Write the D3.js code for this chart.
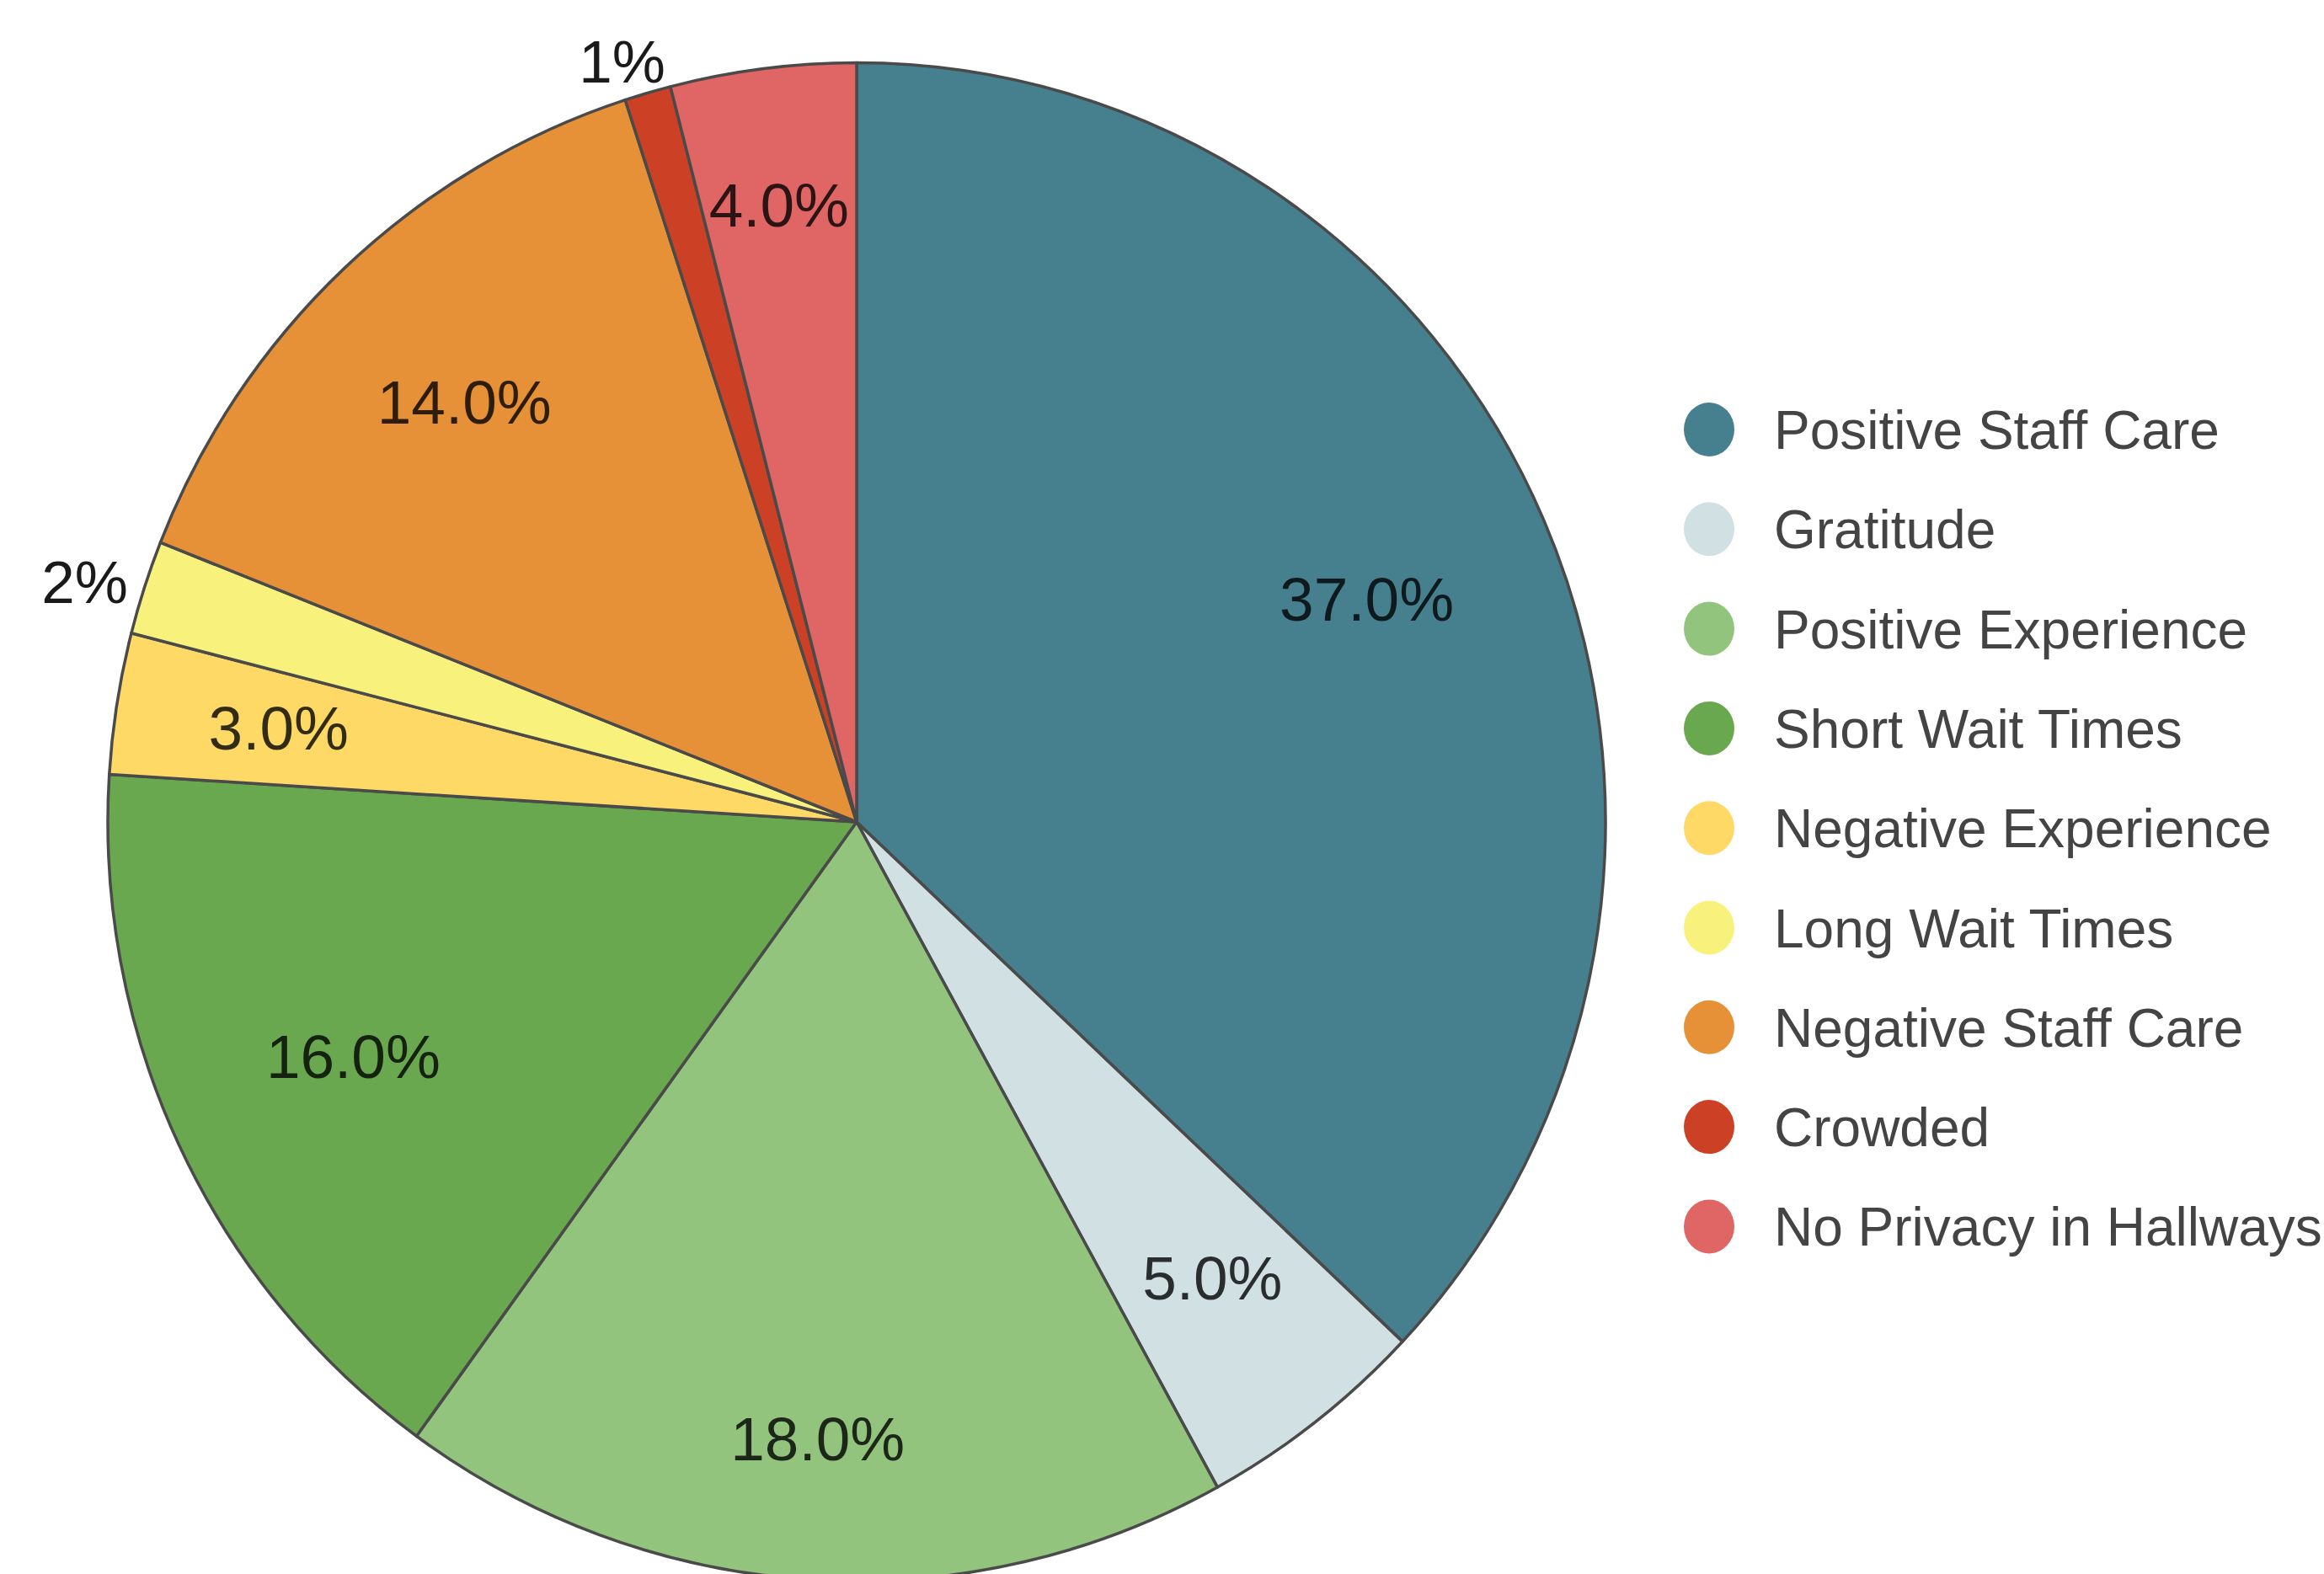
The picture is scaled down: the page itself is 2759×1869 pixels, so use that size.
<!DOCTYPE html>
<html>
<head>
<meta charset="utf-8">
<script src="https://cdn.jsdelivr.net/npm/d3@7"></script>
<style>
  body { margin: 0; background: #fff; }
  text { font-family: "Liberation Sans", Arial, sans-serif; }
</style>
</head>
<body>
<div id="chart"></div>
<script>
// slice data, clockwise from 12 o'clock
var categories = ["Positive Staff Care", "Gratitude", "Positive Experience", "Short Wait Times",
                  "Negative Experience", "Long Wait Times", "Negative Staff Care", "Crowded",
                  "No Privacy in Hallways"];
var values = [37, 5, 18, 16, 3, 2, 14, 1, 4];
var colors = ["#46808f", "#d0e0e3", "#93c47d", "#6aa84f", "#ffd966", "#f8f27c", "#e69138", "#cc4125", "#e06666"];

var width = 2759,
    height = 1869,
    cx = 1017, cy = 976,   // pie centre
    R = 889;               // radius

var svg = d3.select("#chart").append("svg")
    .attr("width", width)
    .attr("height", height);

var pie = d3.pie().sort(null).value(function(d) { return d; });
var arcs = pie(values);
var total = d3.sum(values);

var arc = d3.arc().innerRadius(0).outerRadius(R);

// the source picture is a touch taller than wide
var pieG = svg.append("g")
    .attr("transform", "translate(" + cx + "," + cy + ") scale(1,1.014)");

pieG.selectAll("path")
    .data(arcs)
    .enter().append("path")
        .attr("d", arc)
        .attr("fill", function(d, i) { return colors[i]; })
        .attr("stroke", "#4a4a4a")
        .attr("stroke-width", 3.5)
        .attr("stroke-linejoin", "round");

// labels
var labelG = svg.append("g").attr("transform", "translate(" + cx + "," + cy + ")");
var fmtIn = function(v) { return d3.format(".1f")(v / total * 100) + "%"; };
var fmtOut = function(v) { return d3.format(".0f")(v / total * 100) + "%"; };

arcs.forEach(function(d, i) {
    var mid = (d.startAngle + d.endAngle) / 2,
        span = d.endAngle - d.startAngle;
    var pct = d.value / total * 100;
    if (pct >= 3) {
        // inside label: pushed out near the vertical and in thin slices
        var s = Math.sin(mid), c = Math.cos(mid);
        var r = R * (0.74 + 0.09 * Math.pow(c, 4)) + Math.max(0, 0.25 - span) * 600;
        labelG.append("text")
            .attr("x", s * r)
            .attr("y", -c * r)
            .attr("text-anchor", "middle")
            .attr("dy", "0.31em")
            .attr("font-size", 73)
            .attr("fill", "#000")
            .attr("fill-opacity", 0.8)
            .text(fmtIn(d.value));
    } else {
        // small slice: label just outside the rim
        var a = mid - 0.015,
            s2 = Math.sin(a), c2 = Math.cos(a);
        var w = 100, h = 55;
        var ext = Math.abs(s2) * w / 2 + Math.abs(c2) * h / 2;
        var ro = R + 12 + ext;
        labelG.append("text")
            .attr("x", s2 * ro - 2)
            .attr("y", -c2 * ro)
            .attr("text-anchor", "middle")
            .attr("dy", "0.31em")
            .attr("font-size", 71)
            .attr("fill", "#1a1a1a")
            .text(fmtOut(d.value));
    }
});

// legend
var legend = svg.append("g").attr("transform", "translate(2029,510)");
var rows = legend.selectAll("g")
    .data(categories)
    .enter().append("g")
        .attr("transform", function(d, i) { return "translate(0," + (i * 118.3) + ")"; });

rows.append("ellipse")
    .attr("rx", 30)
    .attr("ry", 32)
    .attr("fill", function(d, i) { return colors[i]; });

rows.append("text")
    .attr("x", 77)
    .attr("dy", "0.36em")
    .attr("font-size", 64)
    .attr("fill", "#444")
    .text(function(d) { return d; });
</script>
</body>
</html>
